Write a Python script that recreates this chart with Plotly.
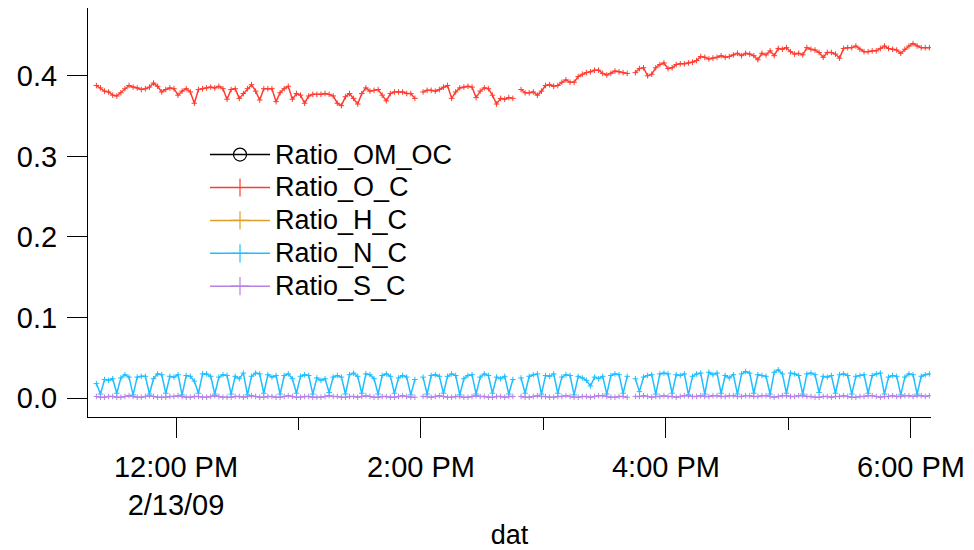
import pandas as pd
import plotly.graph_objects as go

# time stamps (2-minute sampling)
times = pd.date_range("2009-02-13 11:21", periods=205, freq="2min")

ratio_O_C = [
    .388, .385, .381, .380, .376, .375, .379, .384, .388, .386,
    .385, .383, .384, .386, .391, .387, .380, .383, .385, .384,
    .376, .381, .384, .380, .366, .383, .384, .385, .386, .385,
    .387, .384, .371, .383, .384, .372, .378, .384, .389, .381,
    .370, .384, .384, .384, .368, .379, .384, .387, .371, .378,
    .376, .366, .375, .377, .377, .377, .378, .377, .375, .366,
    .363, .374, .378, .372, .365, .378, .385, .381, .382, .383,
    .376, .369, .378, .380, .380, .380, .378, .378, .372, None,
    .380, .382, .382, .381, .383, .386, .388, .372, .380, .385,
    .386, .387, .386, .373, .381, .385, .384, .376, .365, .372,
    .371, .373, .372, None, .383, .379, .379, .380, .376, .381,
    .388, .389, .387, .388, .392, .395, .392, .392, .399, .402,
    .404, .405, .407, .407, .403, .401, .403, .406, .405, .404,
    .403, None, .404, .409, .410, .400, .402, .410, .414, .416,
    .409, .410, .414, .415, .415, .416, .417, .419, .424, .423,
    .421, .422, .423, .425, .423, .424, .426, .428, .425, .428,
    .427, .425, .420, .428, .426, .431, .425, .434, .433, .435,
    .430, .427, .428, .426, .435, .433, .432, .429, .423, .429,
    .429, .427, .422, .434, .435, .435, .437, .433, .430, .430,
    .431, .431, .434, .437, .434, .433, .432, .428, .433, .437,
    .440, .437, .435, .435, .435,
]

ratio_N_C = [
    .018, .005, .023, .022, .024, .006, .025, .029, .026, .004,
    .026, .027, .027, .005, .024, .030, .029, .006, .027, .026,
    .029, .004, .028, .027, .021, .006, .030, .030, .027, .005,
    .026, .029, .028, .005, .027, .024, .031, .004, .027, .031,
    .030, .006, .029, .026, .028, .005, .028, .030, .024, .006,
    .027, .029, .028, .005, .025, .022, .024, .007, .026, .028,
    .026, .005, .029, .031, .027, .006, .030, .029, .024, .005,
    .028, .030, .027, .006, .025, .028, .026, .004, .023, None,
    .026, .005, .028, .029, .027, .006, .027, .030, .028, .004,
    .024, .028, .029, .005, .026, .030, .028, .006, .026, .024,
    .027, .005, .023, None, .025, .006, .027, .029, .030, .005,
    .028, .027, .030, .006, .026, .029, .028, .004, .027, .025,
    .022, .015, .026, .024, .027, .005, .028, .030, .029, .006,
    .027, None, .024, .008, .026, .028, .029, .005, .030, .031,
    .030, .006, .029, .028, .030, .004, .027, .030, .031, .005,
    .032, .029, .031, .006, .028, .025, .029, .005, .030, .033,
    .031, .006, .029, .028, .027, .005, .032, .035, .030, .006,
    .031, .030, .028, .005, .030, .031, .029, .007, .027, .026,
    .028, .006, .029, .030, .028, .005, .027, .028, .029, .006,
    .028, .030, .031, .005, .026, .028, .027, .004, .026, .030,
    .029, .005, .027, .029, .030,
]

ratio_S_C = [
    .002, .001, .001, .002, .002, .001, .001, .002, .003, .002,
    .001, .001, .002, .003, .002, .001, .001, .001, .002, .002,
    .003, .002, .001, .001, .002, .002, .001, .001, .002, .003,
    .002, .001, .001, .001, .002, .002, .001, .002, .003, .002,
    .001, .001, .002, .002, .001, .001, .002, .003, .002, .001,
    .001, .002, .002, .001, .001, .001, .002, .003, .002, .002,
    .001, .001, .002, .002, .001, .002, .003, .002, .001, .001,
    .002, .002, .001, .001, .002, .003, .002, .001, .001, None,
    .002, .002, .001, .002, .003, .002, .001, .001, .002, .002,
    .001, .001, .002, .003, .002, .002, .001, .001, .002, .002,
    .001, .002, .002, None, .002, .001, .001, .002, .003, .002,
    .002, .001, .001, .002, .002, .003, .002, .001, .001, .002,
    .002, .001, .002, .003, .003, .002, .001, .001, .002, .002,
    .001, None, .002, .002, .003, .002, .001, .002, .002, .003,
    .002, .002, .001, .002, .003, .003, .002, .002, .003, .002,
    .002, .003, .003, .002, .002, .003, .003, .002, .002, .003,
    .003, .002, .002, .003, .003, .002, .001, .002, .003, .003,
    .002, .002, .003, .003, .002, .002, .001, .001, .002, .002,
    .001, .002, .002, .003, .002, .001, .001, .002, .002, .003,
    .003, .002, .001, .002, .002, .003, .002, .002, .003, .003,
    .002, .003, .003, .002, .003,
]

# OM/OC and H/C lie off the displayed scale: they only show in the legend
ratio_OM_OC = []
ratio_H_C = []

series_names = ["Ratio_OM_OC", "Ratio_O_C", "Ratio_H_C", "Ratio_N_C", "Ratio_S_C"]
series_values = [ratio_OM_OC, ratio_O_C, ratio_H_C, ratio_N_C, ratio_S_C]
series_colors = ["#000000", "#ff3b2f", "#e0a028", "#1fbfff", "#b482e6"]
series_symbols = ["circle-open", "cross-thin", "cross-thin", "cross-thin", "cross-thin"]

tick_vals = ["2009-02-13 12:00", "2009-02-13 14:00", "2009-02-13 16:00", "2009-02-13 18:00"]
tick_text = ["12:00 PM<br>2/13/09", "2:00 PM", "4:00 PM", "6:00 PM"]
minor_vals = ["2009-02-13 13:00", "2009-02-13 15:00", "2009-02-13 17:00"]
y_ticks = [0.0, 0.1, 0.2, 0.3, 0.4]

FONT = "Liberation Sans, Arial, sans-serif"

fig = go.Figure()

for name, vals, color, sym in zip(series_names, series_values, series_colors, series_symbols):
    group = name
    if vals:
        fig.add_trace(go.Scatter(
            x=list(times[:len(vals)]), y=vals, name=name, legendgroup=group,
            mode="lines+markers", showlegend=False, connectgaps=False,
            line=dict(color=color, width=1.5),
            marker=dict(symbol=sym, size=4, color=color,
                        line=dict(color=color, width=1)),
        ))
    # legend entry (drawn by plotly's legend with a larger sample marker)
    fig.add_trace(go.Scatter(
        x=[None], y=[None], legendgroup=group,
        name='<span style="font-size:27px">%s</span>' % name,
        mode="lines+markers", showlegend=True,
        line=dict(color=color, width=1.5),
        marker=dict(symbol=sym, size=13, color=color,
                    line=dict(color=color, width=1.2)),
    ))

# the page body adds an 8px offset, so the figure is sized to fit the window
fig.update_layout(
    width=966, height=542,
    margin=dict(l=80, r=43, t=0, b=133),
    plot_bgcolor="white", paper_bgcolor="white",
    font=dict(family=FONT, size=29, color="black"),
    showlegend=True,
    legend=dict(x=0.1388, y=0.694, xanchor="left", yanchor="top",
                bgcolor="rgba(0,0,0,0)", font=dict(size=23),
                itemwidth=60, tracegroupgap=0, groupclick="toggleitem"),
    xaxis=dict(
        type="date", automargin=False,
        range=["2009-02-13 11:16:54", "2009-02-13 18:09:48"],
        tickmode="array", tickvals=tick_vals, ticktext=tick_text,
        ticklabelstandoff=4,
        showline=True, linecolor="black", linewidth=1,
        ticks="outside", ticklen=20, tickwidth=1, tickcolor="black",
        minor=dict(tickmode="array", tickvals=minor_vals, ticks="outside",
                   ticklen=12, tickwidth=1, tickcolor="black", showgrid=False),
        showgrid=False, zeroline=False,
        title=dict(text="dat", standoff=15, font=dict(size=27)),
    ),
    yaxis=dict(
        automargin=False,
        range=[-0.0235, 0.4842],
        tickmode="array", tickvals=y_ticks, tickformat=".1f",
        ticklabelstandoff=4,
        showline=True, linecolor="black", linewidth=1,
        ticks="outside", ticklen=20, tickwidth=1, tickcolor="black",
        showgrid=False, zeroline=False,
    ),
)

fig.write_html("out.html")
